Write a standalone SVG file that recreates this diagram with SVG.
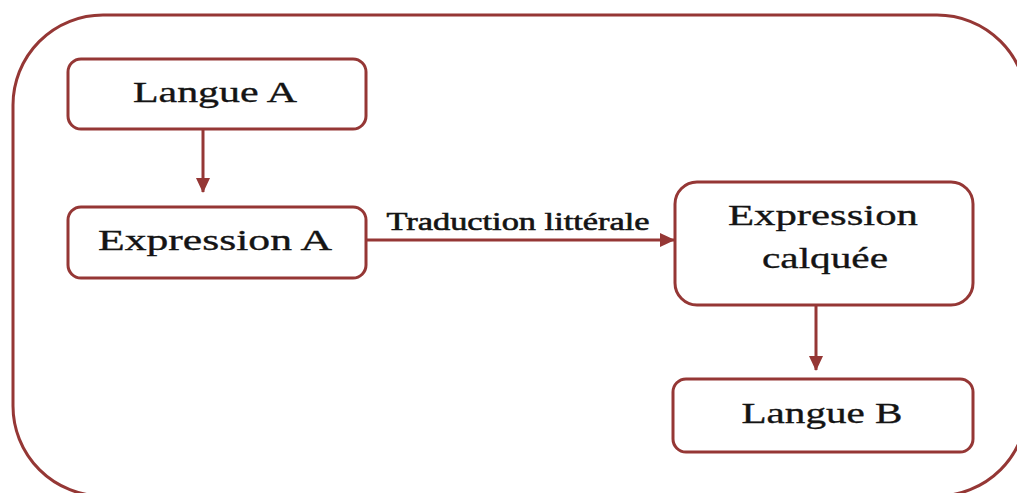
<svg xmlns="http://www.w3.org/2000/svg" width="1017" height="493" viewBox="0 0 1017 493">
  <defs>
    <style>
      .frame { fill: none; stroke: #953735; stroke-width: 3; }
      .box { fill: #ffffff; stroke: #953735; stroke-width: 3; }
      .conn { fill: none; stroke: #953735; stroke-width: 3; }
      .lbl { font-family: "Liberation Serif", "Times New Roman", serif; fill: #141414; stroke: #141414; text-anchor: middle; }
      .big { font-size: 30px; stroke-width: 0.35; }
      .small { font-size: 26px; stroke-width: 0.6; }
    </style>
    <marker id="arr" markerUnits="userSpaceOnUse" markerWidth="16" markerHeight="16" viewBox="0 0 16 16" refX="14" refY="8" orient="auto">
      <path d="M0,1 L15,8 L0,15 Z" fill="#953735"/>
    </marker>
  </defs>
  <rect class="frame" x="13" y="15" width="1014" height="481" rx="90" ry="90"/>
  <g id="connectors">
    <line class="conn" x1="203" y1="130" x2="203" y2="192" marker-end="url(#arr)"/>
    <line class="conn" x1="366" y1="240" x2="674" y2="240" marker-end="url(#arr)"/>
    <text class="lbl small" x="518" y="230" textLength="263" lengthAdjust="spacingAndGlyphs">Traduction littérale</text>
    <line class="conn" x1="816" y1="305" x2="816" y2="370" marker-end="url(#arr)"/>
  </g>
  <g id="langue-a">
    <rect class="box" x="68" y="59" width="298" height="70" rx="13"/>
    <text class="lbl big" x="215" y="102" textLength="164" lengthAdjust="spacingAndGlyphs">Langue A</text>
  </g>
  <g id="expression-a">
    <rect class="box" x="68" y="207" width="298" height="71" rx="13"/>
    <text class="lbl big" x="215" y="250" textLength="234" lengthAdjust="spacingAndGlyphs">Expression A</text>
  </g>
  <g id="expression-calquee">
    <rect class="box" x="675" y="182" width="298" height="123" rx="22"/>
    <text class="lbl big" x="823" y="225" textLength="190" lengthAdjust="spacingAndGlyphs">Expression</text>
    <text class="lbl big" x="825" y="268" textLength="126" lengthAdjust="spacingAndGlyphs">calquée</text>
  </g>
  <g id="langue-b">
    <rect class="box" x="673" y="379" width="300" height="73" rx="13"/>
    <text class="lbl big" x="822" y="423" textLength="161" lengthAdjust="spacingAndGlyphs">Langue B</text>
  </g>
</svg>
